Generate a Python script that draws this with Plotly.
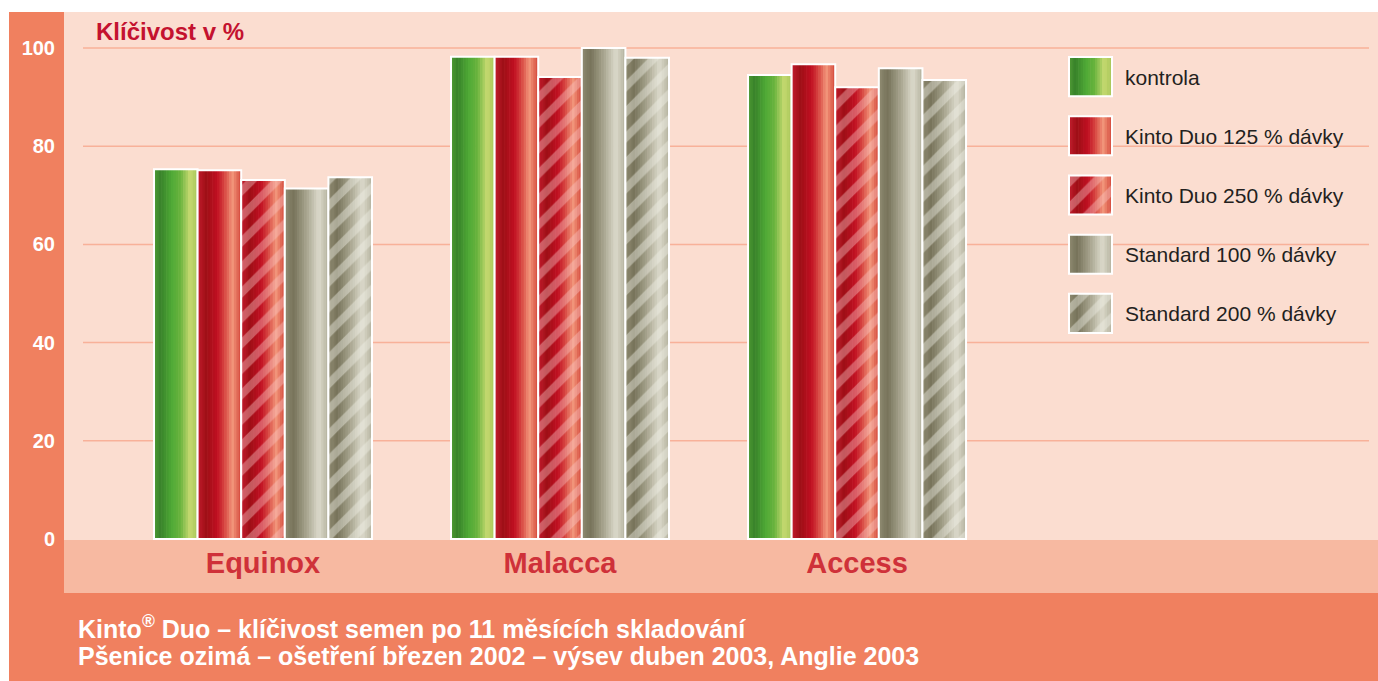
import plotly.graph_objects as go

# ---------------- data ----------------
categories = ["Equinox", "Malacca", "Access"]
series_names = ["kontrola", "Kinto Duo 125 % dávky", "Kinto Duo 250 % dávky",
                "Standard 100 % dávky", "Standard 200 % dávky"]
kontrola = [75.3, 98.2, 94.5]
kinto_125 = [75.1, 98.2, 96.7]
kinto_250 = [73.1, 94.1, 92.0]
standard_100 = [71.4, 100.0, 95.9]
standard_200 = [73.7, 98.0, 93.5]
y_ticks = [0, 20, 40, 60, 80, 100]
y_title = "Klíčivost v %"
caption_1 = "Kinto<sup>®</sup> Duo – klíčivost semen po 11 měsících skladování"
caption_2 = "Pšenice ozimá – ošetření březen 2002 – výsev duben 2003, Anglie 2003"

series_values = [kontrola, kinto_125, kinto_250, standard_100, standard_200]

# ---------------- style ----------------
W, H = 1378, 681          # reference pixel grid
FIG_H = 691               # rendered height (page is captured 691 tall)
FONT = "Liberation Sans, Arial, Helvetica, sans-serif"

GREEN = [(0.0, "#4E9A34"), (0.15, "#38822A"), (0.40, "#4FA936"), (0.60, "#68B33D"),
         (0.82, "#C6D970"), (1.0, "#A6C658")]
RED = [(0.0, "#C21B2C"), (0.2, "#9E0F16"), (0.45, "#C10F22"), (0.63, "#D94C45"),
       (0.80, "#F2967B"), (1.0, "#D4473A")]
GRAY = [(0.0, "#8E8A70"), (0.2, "#77735A"), (0.5, "#A8A58F"), (0.78, "#DCDACB"),
        (1.0, "#B4B29E")]
series_style = [(GREEN, None), (RED, None), (RED, "rgba(250,200,200,0.8)"),
                (GRAY, None), (GRAY, "rgba(240,240,230,0.85)")]

N = 18  # stripes per bar for metallic gradient
HATCH_SIZE, HATCH_SOLID = 18, 0.45


def hex2rgb(h):
    h = h.lstrip("#")
    return tuple(int(h[i:i + 2], 16) for i in (0, 2, 4))


def grad(stops, t):
    for (p0, c0), (p1, c1) in zip(stops[:-1], stops[1:]):
        if p0 <= t <= p1:
            f = (t - p0) / (p1 - p0) if p1 > p0 else 0
            a, b = hex2rgb(c0), hex2rgb(c1)
            return "rgb(%d,%d,%d)" % tuple(round(a[k] + (b[k] - a[k]) * f) for k in range(3))
    return stops[-1][1]


def px_x(p):
    return p / W


def px_y(p):
    return (H - p) / H


fig = go.Figure()

group_w = 0.734
bar_w = group_w / 5
sw = bar_w / N

# main bars: gradient stripes
for i, (vals, (stops, hatch)) in enumerate(zip(series_values, series_style)):
    start = -group_w / 2 + i * bar_w
    for j in range(N):
        fig.add_trace(go.Bar(
            x=categories, y=vals, offset=start + j * sw,
            width=sw * (1.25 if j < N - 1 else 1.0),
            marker=dict(color=grad(stops, (j + 0.5) / N), line=dict(width=0)),
            showlegend=False, hoverinfo="skip"))
    pat = dict(shape="/", fgcolor=hatch, size=HATCH_SIZE, solidity=HATCH_SOLID,
               fillmode="overlay") if hatch else dict(shape="")
    fig.add_trace(go.Bar(
        x=categories, y=vals, offset=start, width=bar_w, name=series_names[i],
        marker=dict(color="rgba(0,0,0,0)", line=dict(color="white", width=2), pattern=pat),
        showlegend=False, hovertemplate="%{x}: %{y}<extra>" + series_names[i] + "</extra>"))

# legend swatches on a small secondary axis
row_gap, sw_h = 59, 39
bases = [row_gap * i for i in range(5)]
for j in range(N):
    fig.add_trace(go.Bar(
        x=[(j + 0.5) / N] * 5, y=[sw_h] * 5, base=bases,
        width=(1 / N) * (1.25 if j < N - 1 else 1.0),
        marker=dict(color=[grad(st, (j + 0.5) / N) for st, _ in series_style], line=dict(width=0)),
        xaxis="x2", yaxis="y2", showlegend=False, hoverinfo="skip"))
fig.add_trace(go.Bar(
    x=[0.5] * 5, y=[sw_h] * 5, base=bases, width=1,
    marker=dict(color="rgba(0,0,0,0)", line=dict(color="white", width=2),
                pattern=dict(shape=["" if h is None else "/" for _, h in series_style],
                             fgcolor=["rgba(0,0,0,0)" if h is None else h for _, h in series_style],
                             size=HATCH_SIZE, solidity=HATCH_SOLID, fillmode="overlay")),
    xaxis="x2", yaxis="y2", showlegend=False, hoverinfo="skip"))

# ---------------- frame shapes ----------------
shapes = [
    dict(type="rect", xref="paper", yref="paper", x0=px_x(9), x1=1, y0=0, y1=px_y(12),
         fillcolor="#F0805F", line=dict(width=0), layer="below"),
    dict(type="rect", xref="paper", yref="paper", x0=px_x(64), x1=1, y0=px_y(540), y1=px_y(12),
         fillcolor="#FBDDD0", line=dict(width=0), layer="below"),
    dict(type="rect", xref="paper", yref="paper", x0=px_x(64), x1=1, y0=px_y(593), y1=px_y(540),
         fillcolor="#F7B9A1", line=dict(width=0), layer="below"),
]
for t in y_ticks[1:]:
    shapes.append(dict(type="line", xref="paper", yref="y", x0=px_x(83), x1=px_x(1369), y0=t, y1=t,
                       line=dict(color="#F8B199", width=1.5), layer="below"))

annotations = [
    dict(text=y_title, xref="paper", yref="paper", x=px_x(94), y=px_y(31),
         xanchor="left", yanchor="middle", showarrow=False,
         font=dict(family=FONT, size=24, color="#C4122F", weight="bold")),
    dict(text=caption_1, xref="paper", yref="paper", x=px_x(75.5), y=px_y(627),
         xanchor="left", yanchor="middle", showarrow=False,
         font=dict(family=FONT, size=25, color="white", weight="bold")),
    dict(text=caption_2, xref="paper", yref="paper", x=px_x(75.5), y=px_y(656),
         xanchor="left", yanchor="middle", showarrow=False,
         font=dict(family=FONT, size=25, color="white", weight="bold")),
]
for i, nm in enumerate(series_names):
    annotations.append(dict(text=nm, xref="paper", yref="paper", x=px_x(1123),
                            y=px_y(57 + sw_h / 2 + row_gap * i + 1), xanchor="left", yanchor="middle",
                            showarrow=False, font=dict(family=FONT, size=21, color="#231F20")))

y_top = 12
y_bot = 540
zero_px, hundred_px = 539, 48
ppu = (zero_px - hundred_px) / 100.0
y_range = [-(y_bot - zero_px) / ppu, (zero_px - y_top) / ppu]

fig.update_layout(
    width=W, height=FIG_H, margin=dict(l=0, r=0, t=0, b=0),
    paper_bgcolor="white", plot_bgcolor="rgba(0,0,0,0)",
    barmode="overlay", showlegend=False, font=dict(family=FONT),
    xaxis=dict(domain=[px_x(64), 1], type="category", range=[-0.67, 3.754],
               showgrid=False, zeroline=False, showline=False, ticks="",
               tickfont=dict(family=FONT, size=29, color="#CF3139", weight="bold"),
               ticklabelstandoff=3),
    yaxis=dict(domain=[px_y(y_bot), px_y(y_top)], range=y_range, tickvals=y_ticks,
               showgrid=False, zeroline=False, showline=False, ticks="",
               tickfont=dict(family=FONT, size=20, color="white", weight="bold"),
               ticklabelstandoff=8),
    xaxis2=dict(domain=[px_x(1068), px_x(1113)], range=[-1 / 43, 1 + 1 / 43], visible=False,
                fixedrange=True, anchor="y2"),
    yaxis2=dict(domain=[px_y(334), px_y(56)], range=[sw_h + row_gap * 4 + 1, -1], visible=False,
                fixedrange=True, anchor="x2"),
    shapes=shapes, annotations=annotations,
)

fig.write_html("out.html", config={"displayModeBar": False},
               post_script="document.body.style.margin='0';")
